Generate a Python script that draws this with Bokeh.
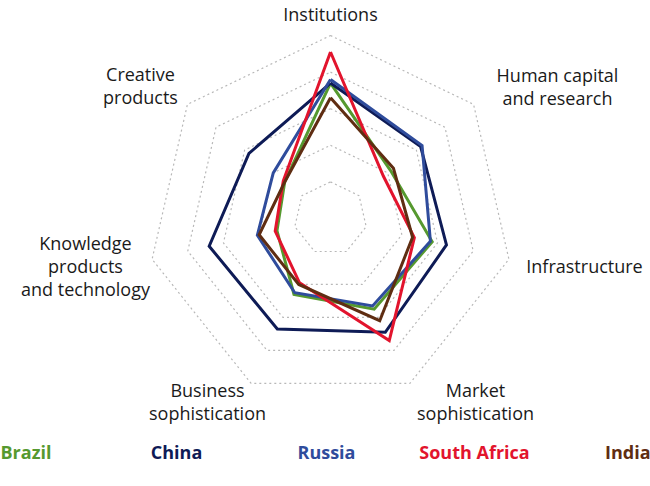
import numpy as np
from bokeh.plotting import figure
from bokeh.models import Range1d, ColumnDataSource
from bokeh.core.properties import value
from bokeh.embed import file_html
from bokeh.resources import INLINE

# ---------------- data ----------------
categories = ["Institutions", "Human capital and research", "Infrastructure",
              "Market sophistication", "Business sophistication",
              "Knowledge products and technology", "Creative products"]
series_names = ["Brazil", "China", "Russia", "South Africa", "India"]
brazil = [74, 42, 57, 55, 46, 30, 32]
china = [74, 63, 65, 69, 67, 68, 57]
russia = [76, 64, 56, 53, 45, 41, 40]
south_africa = [91, 37, 47, 74, 39, 31, 33]
india = [66, 44, 46, 62, 40, 40, 32]
ring_levels = [20, 40, 60, 80, 100]

# ---------------- styles ----------------
colors = {"Brazil": "#56992f", "China": "#0e1b56", "Russia": "#2f4c9c",
          "South Africa": "#e2142d", "India": "#5f2d12"}
series_values = {"Brazil": brazil, "China": china, "Russia": russia,
                 "South Africa": south_africa, "India": india}
SCALE = 1.83          # px per unit
W, H = 650, 486
CX, CY = 330, 218     # centre in px (from top-left)
FONT = "Open Sans"
FS = "18px"

# label line positions (px, top-left origin, text centre)
label_lines = [
    ("Institutions", 330, 13),
    ("Human capital", 557, 74), ("and research", 557, 97),
    ("Infrastructure", 584, 265),
    ("Market", 475, 389), ("sophistication", 475, 412),
    ("Business", 207, 389), ("sophistication", 207, 412),
    ("Knowledge", 85, 242), ("products", 85, 265), ("and technology", 85, 288),
    ("Creative", 140, 73), ("products", 140, 96),
]
legend_pos = [(0, "left"), (176, "center"), (326, "center"), (474, "center"), (650, "right")]
LEGEND_Y = 451

p = figure(width=W, height=H, output_backend="svg", toolbar_location=None,
           x_range=Range1d(-CX, W - CX), y_range=Range1d(CY - H, CY),
           x_axis_location=None, y_axis_location=None, min_border=0)
p.grid.visible = False
p.outline_line_color = None
p.background_fill_color = "white"
p.border_fill_color = "white"

n = len(categories)
theta = np.pi / 2 - 2 * np.pi * np.arange(n) / n

def polygon(vals):
    r = np.asarray(vals, dtype=float) * SCALE
    xs = list(r * np.cos(theta)) + [r[0] * np.cos(theta[0])]
    ys = list(r * np.sin(theta)) + [r[0] * np.sin(theta[0])]
    return xs, ys

# grid rings
for lv in ring_levels:
    xs, ys = polygon([lv] * n)
    p.line(xs, ys, line_color="#b8b8b8", line_width=1.2, line_dash="2 3")

# series
for name in series_names:
    xs, ys = polygon(series_values[name])
    p.line(xs, ys, line_color=colors[name], line_width=3, line_join="miter")

# category labels
lab = ColumnDataSource(dict(
    x=[x - CX for _, x, _ in label_lines],
    y=[CY - y for _, _, y in label_lines],
    t=[t for t, _, _ in label_lines]))
p.text(x="x", y="y", text="t", source=lab, text_font=value(FONT),
       text_font_size=FS, text_color="#1a1a1a",
       text_align="center", text_baseline="middle")

# legend
for name, (lx, align) in zip(series_names, legend_pos):
    p.text(x=[lx - CX], y=[CY - LEGEND_Y], text=[name], text_font=value(FONT),
           text_font_size=FS, text_font_style="bold", text_color=colors[name],
           text_align=align, text_baseline="middle")

open("out.html", "w").write(file_html(p, INLINE))
